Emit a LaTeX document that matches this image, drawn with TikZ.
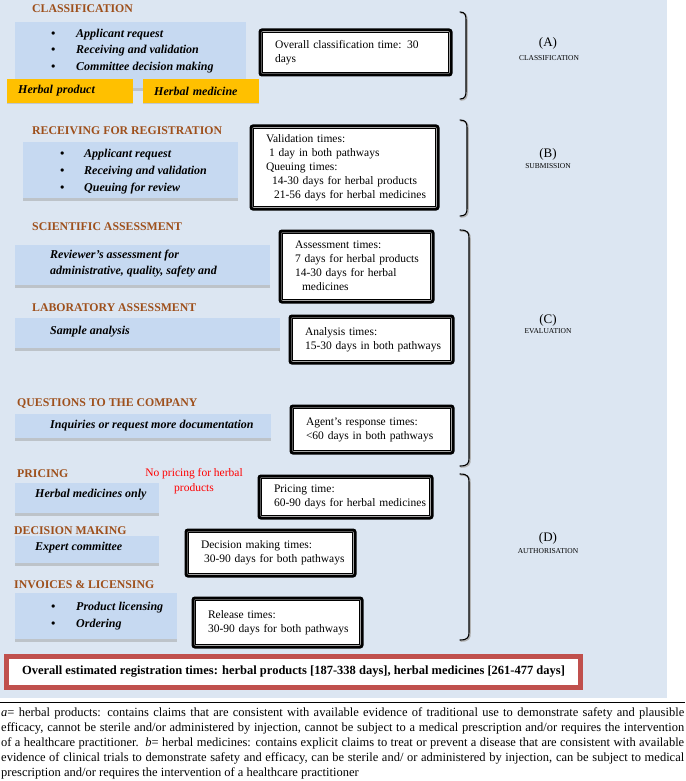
\documentclass[tikz,border=0pt]{standalone}
\usepackage{fontspec}
\setmainfont{Liberation Serif}
\usetikzlibrary{positioning, shadows}
\definecolor{panelblue}{RGB}{220,230,242}
\definecolor{stageblue}{RGB}{198,217,241}
\definecolor{headbrown}{RGB}{158,80,28}
\definecolor{gold}{RGB}{255,192,0}
\definecolor{boxred}{RGB}{192,80,77}
\newcommand{\timelines}[1]{\begin{tabular}{@{}l@{}}#1\end{tabular}}
\begin{document}
\begin{tikzpicture}[x=1pt, y=-1pt, font=\fontsize{11.5}{14}\selectfont]
\tikzstyle{head}=[anchor=west, inner sep=0, text=headbrown, font=\fontsize{11.8}{14}\selectfont\bfseries]
\tikzstyle{stage}=[anchor=north west, inner sep=0, fill=stageblue, drop shadow={shadow xshift=0pt, shadow yshift=-2.5pt, fill=black!40, opacity=.45}]
\tikzstyle{task}=[anchor=west, inner sep=0, align=left, font=\fontsize{12}{16.5}\selectfont\bfseries\itshape]
\tikzstyle{kind}=[anchor=west, fill=gold, inner xsep=11pt, inner ysep=0, minimum height=24pt, font=\fontsize{12}{14}\selectfont\bfseries\itshape, drop shadow={shadow xshift=0pt, shadow yshift=-1.5pt, fill=black!40, opacity=.4}]
\tikzstyle{timebox}=[anchor=north west, draw, line width=3pt, rounded corners=2pt, fill=white, inner xsep=15pt, inner ysep=0, align=left]
\tikzstyle{rim}=[line width=0.8pt]
\tikzstyle{phase}=[inner sep=0, font=\fontsize{13}{14}\selectfont]
\tikzstyle{phasename}=[inner sep=0, font=\fontsize{7.5}{9}\selectfont]
\tikzstyle{brace}=[line width=1.1pt, line cap=round]
\tikzstyle{note}=[inner sep=0, align=center, text=red, font=\fontsize{11.5}{15}\selectfont]
\tikzstyle{total}=[draw=boxred, line width=3.5pt, fill=white, minimum width=575pt, minimum height=32pt, font=\fontsize{12.5}{14}\selectfont\bfseries]
\useasboundingbox (0,0) rectangle (685,781);
\fill[panelblue] (0,0) rectangle (667,698);

\node[head] (hA) at (32,9) {CLASSIFICATION};
\node[stage, minimum width=231pt, minimum height=66pt] (stA) at (15,22) {};
\node[task] (lA) at (51,51) {\makebox[25pt][l]{\textbullet}Applicant request\\\makebox[25pt][l]{\textbullet}Receiving and validation\\\makebox[25pt][l]{\textbullet}Committee decision making};
\node[kind, text width=104pt] (hpA) at (7,91) {Herbal product};
\node[kind, text width=94pt] (hmA) at (143,91) {Herbal medicine};
\node[timebox, text width=161pt, minimum height=45pt] (tA) at (258.5,28.5) {\timelines{Overall classification time: 30\\days}};

\node[head] (hB) at (32,131) {RECEIVING FOR REGISTRATION};
\node[stage, minimum width=215pt, minimum height=56pt] (stB) at (23,142) {};
\node[task, font=\fontsize{12}{17}\selectfont\bfseries\itshape] (lB) at (60,172) {\makebox[24pt][l]{\textbullet}Applicant request\\\makebox[24pt][l]{\textbullet}Receiving and validation\\\makebox[24pt][l]{\textbullet}Queuing for review};
\node[timebox, text width=157pt, minimum height=83pt] (tB) at (249.5,124.5) {\timelines{Validation times:\\\hspace*{3pt}1 day in both pathways\\Queuing times:\\\hspace*{6pt}14-30 days for herbal products\\\hspace*{8pt}21-56 days for herbal medicines}};

\node[head] (hC1) at (32,227) {SCIENTIFIC ASSESSMENT};
\node[stage, minimum width=255pt, minimum height=40pt] (stC1) at (15,245) {};
\node[task, font=\fontsize{12}{16}\selectfont\bfseries\itshape] (lC1) at (50,264) {Reviewer’s assessment for\\administrative, quality, safety and};
\node[timebox, text width=123pt, minimum height=71pt] (tC1) at (278.5,229.5) {\timelines{Assessment times:\\7 days for herbal products\\14-30 days for herbal\\\hspace*{7pt}medicines}};

\node[head] (hC2) at (32,308) {LABORATORY ASSESSMENT};
\node[stage, minimum width=265pt, minimum height=30pt] (stC2) at (15,318) {};
\node[task] (lC2) at (50,332) {Sample analysis};
\node[timebox, text width=133pt, minimum height=47pt] (tC2) at (288.5,314.5) {\timelines{Analysis times:\\15-30 days in both pathways}};

\node[head] (hC3) at (17,404) {QUESTIONS TO THE COMPANY};
\node[stage, minimum width=256pt, minimum height=24pt] (stC3) at (15,414) {};
\node[task] (lC3) at (50,426) {Inquiries or request more documentation};
\node[timebox, text width=132pt, minimum height=47pt] (tC3) at (289.5,404.5) {\timelines{Agent’s response times:\\<60 days in both pathways}};

\node[head] (hD1) at (17,474) {PRICING};
\node[note] (nD1) at (194,481) {No pricing for herbal\\products};
\node[stage, minimum width=144pt, minimum height=30pt] (stD1) at (15,483) {};
\node[task] (lD1) at (35,495) {Herbal medicines only};
\node[timebox, text width=143pt, minimum height=42pt] (tD1) at (257.5,474.5) {\timelines{Pricing time:\\60-90 days for herbal medicines}};

\node[head] (hD2) at (14,531) {DECISION MAKING};
\node[stage, minimum width=144pt, minimum height=27pt] (stD2) at (15,536) {};
\node[task] (lD2) at (35,548) {Expert committee};
\node[timebox, text width=139pt, minimum height=46pt] (tD2) at (184.5,528.5) {\timelines{Decision making times:\\\hspace*{3pt}30-90 days for both pathways}};

\node[head] (hD3) at (14,585) {INVOICES \& LICENSING};
\node[stage, minimum width=162pt, minimum height=46pt] (stD3) at (15,593) {};
\node[task] (lD3) at (51,616) {\makebox[25pt][l]{\textbullet}Product licensing\\\makebox[25pt][l]{\textbullet}Ordering};
\node[timebox, text width=139pt, minimum height=49pt] (tD3) at (191.5,596.5) {\timelines{Release times:\\30-90 days for both pathways}};

\foreach \n in {tA,tB,tC1,tC2,tC3,tD1,tD2,tD3}
  \draw[rim] ([shift={(4pt,-4pt)}]\n.north west) rectangle ([shift={(-4pt,4pt)}]\n.south east);

\node[total] (tot) at (293.5,672) {Overall estimated registration times: herbal products [187-338 days], herbal medicines [261-477 days]};
\draw[rim, boxred] ([shift={(4.5pt,-4.5pt)}]tot.north west) rectangle ([shift={(-4.5pt,4.5pt)}]tot.south east);

\foreach \top/\bot/\xx in {12/99/466, 120/216/467, 230/466/469, 474/640/469} {
  \draw[brace, black!30, line width=1.6pt, xshift=1pt, yshift=-1pt] (460,\top) .. controls (\xx-1,\top) and (\xx,\top+3) .. (\xx,\top+8) -- (\xx,\bot-8) .. controls (\xx,\bot-3) and (\xx-1,\bot) .. (460,\bot);
  \draw[brace] (460,\top) .. controls (\xx-1,\top) and (\xx,\top+3) .. (\xx,\top+8) -- (\xx,\bot-8) .. controls (\xx,\bot-3) and (\xx-1,\bot) .. (460,\bot);
}

\node[phase] (pA) at (548,43) {(A)};
\node[phasename] (nA) at (549,58) {CLASSIFICATION};
\node[phase] (pB) at (548,154) {(B)};
\node[phasename] (nB) at (548,166) {SUBMISSION};
\node[phase] (pC) at (548,320) {(C)};
\node[phasename] (nC) at (548,331) {EVALUATION};
\node[phase] (pD) at (548,538) {(D)};
\node[phasename] (nD) at (548,551) {AUTHORISATION};

\draw[line width=0.8pt] (0,702) -- (685,702);
\node[anchor=north west, inner sep=0, text width=683pt, align=justify, font=\fontsize{12.5}{15}\selectfont] (fn) at (1,707) {\textit{a}= herbal products: contains claims that are consistent with available evidence of traditional use to demonstrate safety and plausible\linebreak efficacy, cannot be sterile and/or administered by injection, cannot be subject to a medical prescription and/or requires the intervention\linebreak of a healthcare practitioner.\ \ \textit{b}= herbal medicines: contains explicit claims to treat or prevent a disease that are consistent with available\linebreak evidence of clinical trials to demonstrate safety and efficacy, can be sterile and/ or administered by injection, can be subject to medical\linebreak prescription and/or requires the intervention of a healthcare practitioner};
\end{tikzpicture}
\end{document}
